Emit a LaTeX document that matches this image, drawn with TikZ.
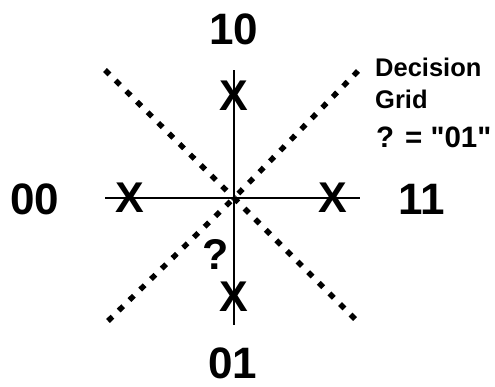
\documentclass[tikz,border=0pt]{standalone}
\usepackage{fontspec}
\setmainfont{Liberation Sans}
\newfontfamily\plainsans{Liberation Sans}
\begin{document}
\begin{tikzpicture}[x=1pt,y=-1pt,
  big/.style={font=\fontsize{44}{48}\selectfont\bfseries, inner sep=0pt},
  xmark/.style={font=\fontsize{43}{46}\selectfont\bfseries, inner sep=0pt},
  note/.style={font=\plainsans\fontsize{25.5}{28}\selectfont\bfseries, inner sep=0pt, anchor=base west},
  bignote/.style={note, font=\plainsans\fontsize{29.5}{32}\selectfont\bfseries},
  axis/.style={line width=1.9pt},
  grid/.style={line width=5.4pt, dash pattern=on 6.2pt off 8.8pt}]
\useasboundingbox (0,0) rectangle (495,386);
% axes
\coordinate (c) at (234,198);
\coordinate (l) at (105,198);
\coordinate (r) at (360,198);
\coordinate (t) at (234,70);
\coordinate (b) at (234,325);
\draw[axis] (l) -- (r);
\draw[axis] (t) -- (b);
% decision lines
\coordinate (nw) at (105,70);
\coordinate (se) at (355,319);
\coordinate (ne) at (358,71);
\coordinate (sw) at (108,321);
\draw[grid] (nw) -- (c);
\draw[grid] (se) -- (c);
\draw[grid] (ne) -- (c);
\draw[grid] (sw) -- (c);
% X marks
\node[xmark] (xt) at (234,96) {X};
\node[xmark] (xl) at (130,198) {X};
\node[xmark] (xr) at (333,198) {X};
\node[xmark] (xb) at (234,297) {X};
\node[xmark] (q) at (216,254) {?};
% labels
\node[big] (l10) at (234,29) {10};
\node[big] (l00) at (35,199) {00};
\node[big] (l11) at (422,199) {11};
\node[big] (l01) at (233,363) {01};
% note
\node[note] (n1) at (375,76) {Decision};
\node[note] (n2) at (375,108) {Grid};
\node[bignote] (n3) at (376,147) {? = "01"};
\end{tikzpicture}
\end{document}
